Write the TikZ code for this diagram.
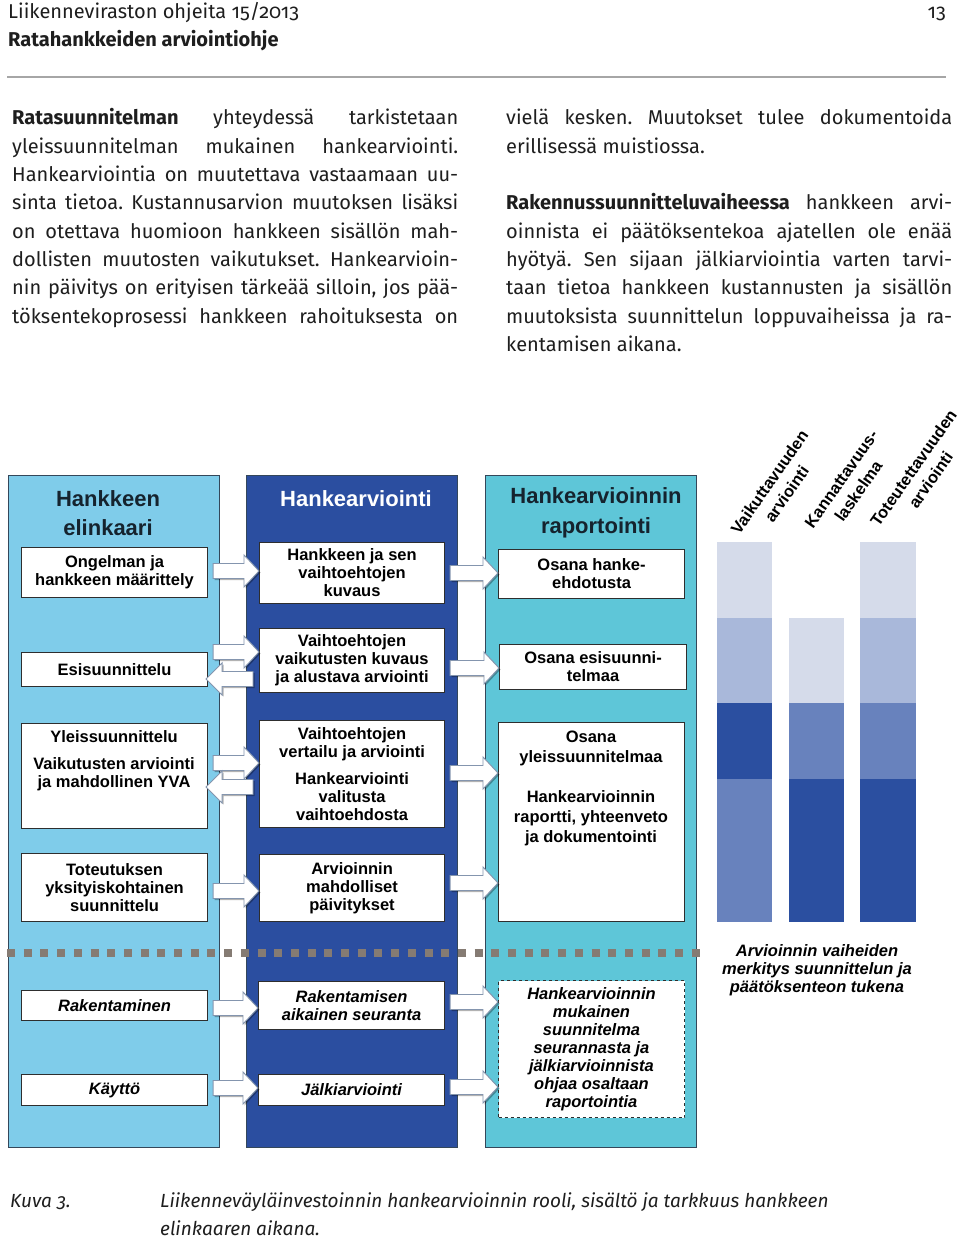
\documentclass[tikz,border=0pt]{standalone}
\usepackage{fontspec}
\setmainfont[Numbers=OldStyle]{Fira Sans}
\newfontfamily\arial{Liberation Sans}
\usetikzlibrary{calc,shadows}
\frenchspacing
\definecolor{colA}{HTML}{7FCCEA}
\definecolor{colB}{HTML}{2B4EA0}
\definecolor{colC}{HTML}{5EC6D8}
\definecolor{barA}{HTML}{D5DBEA}
\definecolor{barB}{HTML}{A9B8DA}
\definecolor{barC}{HTML}{6882BD}
\definecolor{barD}{HTML}{2B4FA0}
\definecolor{dotc}{HTML}{857B73}
\definecolor{arrline}{HTML}{8495AE}
\definecolor{txt}{HTML}{1E1E1E}
\definecolor{ttl}{HTML}{15232E}
\definecolor{colline}{HTML}{34475A}
\definecolor{boxline}{HTML}{2E2E2E}
\newcommand\bxf{\arial\bfseries\fontsize{16.5}{18}\selectfont}
\newcommand\rtf{\arial\bfseries\fontsize{16.5}{21}\selectfont}
\newcommand\ttf{\arial\bfseries\fontsize{22}{29.5}\selectfont}
\newcommand\rarr[3]{\draw[barrow] let \p1=(#1.east), \p2=(#2.west) in
 (\x1+5pt,#3pt+7.5pt) -- (\x2-15pt,#3pt+7.5pt) -- (\x2-15pt,#3pt+16pt) -- (\x2,#3pt) -- (\x2-15pt,#3pt-16pt) -- (\x2-15pt,#3pt-7.5pt) -- (\x1+5pt,#3pt-7.5pt) -- cycle;}
\newcommand\larr[3]{\draw[barrow] let \p1=(#1.east), \p2=(#2.west) in
 (\x2-6pt,#3pt+7.5pt) -- (\x1+14pt,#3pt+7.5pt) -- (\x1+14pt,#3pt+16pt) -- (\x1-2pt,#3pt) -- (\x1+14pt,#3pt-16pt) -- (\x1+14pt,#3pt-7.5pt) -- (\x2-6pt,#3pt-7.5pt) -- cycle;}
\begin{document}
\begin{tikzpicture}[x=1pt,y=1pt,
  colbox/.style={draw=colline, line width=1pt, minimum width=211pt, minimum height=672pt, anchor=north west, inner sep=0pt},
  box/.style={draw=boxline, fill=white, line width=1.1pt, font=\bxf, align=center, inner sep=0pt, anchor=north west, text=black},
  btext/.style={font=\bxf, align=center, inner sep=0pt, text=black},
  barrow/.style={fill=white, draw=arrline, line width=0.9pt, drop shadow={shadow xshift=1.5pt, shadow yshift=-1.5pt, fill=black, opacity=0.3}},
  rotlab/.style={font=\rtf, align=center, inner sep=0pt, rotate=55, text=black},
  coltitle/.style={font=\ttf, align=center, inner sep=0pt}]
\useasboundingbox (0,0) rectangle (960,-1238);
\fill[white] (0,0) rectangle (960,-1238);
% header
\node[anchor=base west, inner sep=0pt, text=txt, font=\fontsize{20}{24}\selectfont] (h1) at (8,-19) {Liikenneviraston ohjeita 15/2013};
\node[anchor=base west, inner sep=0pt, text=txt, font=\bfseries\fontsize{20}{24}\selectfont] (h2) at (8,-47) {Ratahankkeiden arviointiohje};
\node[anchor=base east, inner sep=0pt, text=txt, font=\fontsize{20}{24}\selectfont] (pg) at (946,-19) {13};
\draw[gray!70, line width=1.5pt] (7,-77) -- (946,-77);
% body text
\node[anchor=base west, inner sep=0pt, text=txt] (p1) at (12,-125) {\parbox[t]{446pt}{\fontsize{20}{28.3}\selectfont
\makebox[\linewidth][s]{\textbf{Ratasuunnitelman} yhteydessä tarkistetaan}\\
\makebox[\linewidth][s]{yleissuunnitelman mukainen hankearviointi.}\\
\makebox[\linewidth][s]{Hankearviointia on muutettava vastaamaan uu-}\\
\makebox[\linewidth][s]{sinta tietoa. Kustannusarvion muutoksen lisäksi}\\
\makebox[\linewidth][s]{on otettava huomioon hankkeen sisällön mah-}\\
\makebox[\linewidth][s]{dollisten muutosten vaikutukset. Hankearvioin-}\\
\makebox[\linewidth][s]{nin päivitys on erityisen tärkeää silloin, jos pää-}\\
\makebox[\linewidth][s]{töksentekoprosessi hankkeen rahoituksesta on}}};
\node[anchor=base west, inner sep=0pt, text=txt] (p2) at (506,-125) {\parbox[t]{446pt}{\fontsize{20}{28.3}\selectfont
\makebox[\linewidth][s]{vielä kesken. Muutokset tulee dokumentoida}\\
erillisessä muistiossa.\\[28.3pt]
\makebox[\linewidth][s]{\textbf{Rakennussuunnitteluvaiheessa} hankkeen arvi-}\\
\makebox[\linewidth][s]{oinnista ei päätöksentekoa ajatellen ole enää}\\
\makebox[\linewidth][s]{hyötyä. Sen sijaan jälkiarviointia varten tarvi-}\\
\makebox[\linewidth][s]{taan tietoa hankkeen kustannusten ja sisällön}\\
\makebox[\linewidth][s]{muutoksista suunnittelun loppuvaiheissa ja ra-}\\
kentamisen aikana.}};
% columns
\node[colbox, fill=colA] (c1) at (8,-475) {};
\node[colbox, fill=colB] (c2) at (246,-475) {};
\node[colbox, fill=colC] (c3) at (485,-475) {};
\node[coltitle, text=ttl] (t1) at (108,-513) {Hankkeen\\elinkaari};
\node[coltitle, text=white] (t2) at (356,-499) {Hankearviointi};
\node[coltitle, text=ttl] (t3) at (596,-513) {Hankearvioinnin\\raportointi};
% column 1 boxes
\node[box, minimum width=186pt, minimum height=50pt] (b11) at (21,-547) {Ongelman ja\\hankkeen määrittely};
\node[box, minimum width=186pt, minimum height=34pt] (b12) at (21,-652) {Esisuunnittelu};
\node[box, minimum width=186pt, minimum height=105pt] (b13) at (21,-723) {};
\node[btext, anchor=north] (b13t) at (114,-730) {Yleissuunnittelu\\[9pt]Vaikutusten arviointi\\ja mahdollinen YVA};
\node[box, minimum width=186pt, minimum height=68pt] (b14) at (21,-853) {Toteutuksen\\yksityiskohtainen\\suunnittelu};
\node[box, minimum width=186pt, minimum height=30pt, font=\bxf\itshape] (b15) at (21,-990) {Rakentaminen};
\node[box, minimum width=186pt, minimum height=31pt, font=\bxf\itshape] (b16) at (21,-1074) {Käyttö};
% column 2 boxes
\node[box, minimum width=185pt, minimum height=61pt] (b21) at (259,-542) {Hankkeen ja sen\\vaihtoehtojen\\kuvaus};
\node[box, minimum width=185pt, minimum height=64pt] (b22) at (259,-628) {Vaihtoehtojen\\vaikutusten kuvaus\\ja alustava arviointi};
\node[box, minimum width=185pt, minimum height=107pt] (b23) at (259,-720) {Vaihtoehtojen\\vertailu ja arviointi\\[9pt]Hankearviointi\\valitusta\\vaihtoehdosta};
\node[box, minimum width=185pt, minimum height=67pt] (b24) at (259,-854) {Arvioinnin\\mahdolliset\\päivitykset};
\node[box, minimum width=186pt, minimum height=48pt, font=\bxf\itshape] (b25) at (258,-981) {Rakentamisen\\aikainen seuranta};
\node[box, minimum width=186pt, minimum height=31pt, font=\bxf\itshape] (b26) at (258,-1074) {Jälkiarviointi};
% column 3 boxes
\node[box, minimum width=186pt, minimum height=49pt] (b31) at (498,-549) {Osana hanke-\\ehdotusta};
\node[box, minimum width=187pt, minimum height=45pt] (b32) at (499,-644) {Osana esisuunni-\\telmaa};
\node[box, minimum width=186pt, minimum height=199pt] (b33) at (498,-722) {};
\node[btext, anchor=north, font=\arial\bfseries\fontsize{16.5}{20}\selectfont] (b33t) at (591,-731) {Osana\\yleissuunnitelmaa\\[20pt]Hankearvioinnin\\raportti, yhteenveto\\ja dokumentointi};
\node[box, dashed, line width=1pt, minimum width=186pt, minimum height=137pt, font=\bxf\itshape] (b34) at (498,-980) {Hankearvioinnin\\mukainen\\suunnitelma\\seurannasta ja\\jälkiarvioinnista\\ohjaa osaltaan\\raportointia};
% dotted separator
\draw[dotc, line width=8pt, dash pattern=on 8pt off 8.7pt] (7,-953) -- (701,-953);
% arrows column 1 -> column 2
\rarr{b11}{b21}{-571}
\rarr{b12}{b22}{-652}
\larr{b12}{b22}{-679}
\rarr{b13}{b23}{-763}
\larr{b13}{b23}{-787}
\rarr{b14}{b24}{-891}
\rarr{b15}{b25}{-1008}
\rarr{b16}{b26}{-1088}
% arrows column 2 -> column 3
\rarr{b21}{b31}{-573}
\rarr{b22}{b32}{-668}
\rarr{b23}{b33}{-773}
\rarr{b24}{b33}{-883}
\rarr{b25}{b34}{-1002}
\rarr{b26}{b34}{-1087}
% bars
\fill[barA] (717,-542) rectangle (772,-618);
\fill[barB] (717,-618) rectangle (772,-703);
\fill[barD] (717,-703) rectangle (772,-779);
\fill[barC] (717,-779) rectangle (772,-922);
\fill[barA] (789,-618) rectangle (844,-703);
\fill[barC] (789,-703) rectangle (844,-779);
\fill[barD] (789,-779) rectangle (844,-922);
\fill[barA] (860,-542) rectangle (916,-618);
\fill[barB] (860,-618) rectangle (916,-703);
\fill[barC] (860,-703) rectangle (916,-779);
\fill[barD] (860,-779) rectangle (916,-922);
\node[rotlab] (l1) at (778,-488) {Vaikuttavuuden\\arviointi};
\node[rotlab] (l2) at (850,-485) {Kannattavuus-\\laskelma};
\node[rotlab] (l3) at (922,-474) {Toteutettavuuden\\arviointi};
\node[btext, font=\bxf\itshape] (note) at (817,-970) {Arvioinnin vaiheiden\\merkitys suunnittelun ja\\päätöksenteon tukena};
% caption
\node[anchor=base west, inner sep=0pt, text=txt, font=\itshape\fontsize{19}{28}\selectfont] (k1) at (10,-1207) {Kuva 3.};
\node[anchor=base west, inner sep=0pt, text=txt] (k2) at (160,-1207) {\parbox[t]{790pt}{\raggedright\itshape\fontsize{19}{28}\selectfont Liikenneväyläinvestoinnin hankearvioinnin rooli, sisältö ja tarkkuus hankkeen\\elinkaaren aikana.}};
\end{tikzpicture}
\end{document}
